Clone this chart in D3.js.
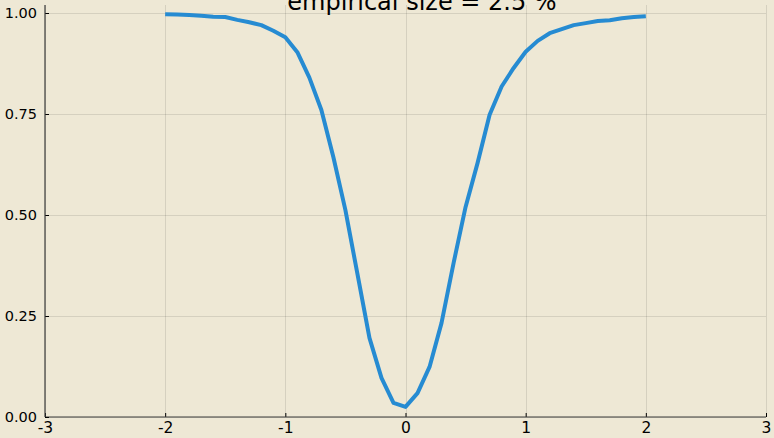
<!DOCTYPE html>
<html>
<head>
<meta charset="utf-8">
<script src="https://cdn.jsdelivr.net/npm/d3@7"></script>
<style>
  html, body { margin: 0; padding: 0; background: #eee8d5; }
  svg { display: block; }
</style>
</head>
<body>
<div id="chart"></div>
<script>
// shift of the mean (x) and the rejection rate (y)
const shifts = [-2.0, -1.9, -1.8, -1.7, -1.6, -1.5, -1.4, -1.3, -1.2, -1.1,
  -1.0, -0.9, -0.8, -0.7, -0.6, -0.5, -0.4, -0.3, -0.2, -0.1,
  0.0, 0.1, 0.2, 0.3, 0.4, 0.5, 0.6, 0.7, 0.8, 0.9,
  1.0, 1.1, 1.2, 1.3, 1.4, 1.5, 1.6, 1.7, 1.8, 1.9, 2.0];
const power = [0.997, 0.996, 0.995, 0.993, 0.991, 0.990, 0.983, 0.977, 0.970, 0.956,
  0.940, 0.903, 0.840, 0.760, 0.643, 0.512, 0.354, 0.196, 0.097, 0.035,
  0.025, 0.059, 0.124, 0.233, 0.381, 0.520, 0.629, 0.748, 0.818, 0.864,
  0.904, 0.931, 0.950, 0.960, 0.970, 0.975, 0.980, 0.982, 0.987, 0.990, 0.992];
const xTicks = [-3, -2, -1, 0, 1, 2, 3];
const xTickLabels = ["-3", "-2", "-1", "0", "1", "2", "3"];
const yTicks = [0, 0.25, 0.5, 0.75, 1];
const yTickLabels = ["0.00", "0.25", "0.50", "0.75", "1.00"];
const title = "empirical size = 2.5 %";

const size = { width: 774, height: 438 };
const plot = { left: 45, right: 766, top: 5, bottom: 417, yTop: 13 };
const font = "DejaVu Sans";

const svg = d3.select("#chart").append("svg")
  .attr("width", size.width)
  .attr("height", size.height);

svg.append("rect")
  .attr("width", size.width)
  .attr("height", size.height)
  .attr("fill", "#eee8d5");

const x = d3.scaleLinear().domain([-3, 3]).range([plot.left, plot.right]);
const y = d3.scaleLinear().domain([0, 1]).range([plot.bottom, plot.yTop]);

// grid
const grid = svg.append("g").attr("stroke", "#000").attr("stroke-opacity", 0.1).attr("stroke-width", 1);
grid.selectAll(".gx").data(xTicks).join("line")
  .attr("x1", d => Math.round(x(d)) + 0.5).attr("x2", d => Math.round(x(d)) + 0.5)
  .attr("y1", plot.top).attr("y2", plot.bottom);
grid.selectAll(".gy").data(yTicks).join("line")
  .attr("x1", plot.left).attr("x2", plot.right)
  .attr("y1", d => Math.round(y(d)) + 0.5).attr("y2", d => Math.round(y(d)) + 0.5);

// the curve
const line = d3.line()
  .x((d, i) => x(shifts[i]))
  .y(d => y(d));

svg.append("path")
  .datum(power)
  .attr("d", line)
  .attr("fill", "none")
  .attr("stroke", "#268bd2")
  .attr("stroke-width", 4)
  .attr("stroke-linejoin", "round");

// axes (d3 puts font-family="sans-serif" on the axis group, so override it there)
const axisX = d3.axisBottom(x).tickValues(xTicks).tickFormat((d, i) => xTickLabels[i])
  .tickSizeInner(-4).tickSizeOuter(0).tickPadding(5);
const gx = svg.append("g")
  .attr("transform", `translate(0,${plot.bottom})`)
  .call(axisX)
  .attr("font-family", font)
  .attr("font-size", 15.5);
gx.select(".domain").remove();
gx.append("line")
  .attr("x1", plot.left).attr("x2", plot.right)
  .attr("stroke", "#3b3b3b").attr("stroke-width", 1.2);
gx.selectAll(".tick line").attr("stroke", "#000");
gx.selectAll(".tick text")
  .attr("fill", "#000")
  .attr("dy", "0.72em");

const axisY = d3.axisLeft(y).tickValues(yTicks).tickFormat((d, i) => yTickLabels[i])
  .tickSizeInner(-4).tickSizeOuter(0).tickPadding(8);
const gy = svg.append("g")
  .attr("transform", `translate(${plot.left},0)`)
  .call(axisY)
  .attr("font-family", font)
  .attr("font-size", 14.5);
gy.select(".domain").remove();
gy.append("line")
  .attr("y1", plot.top).attr("y2", plot.bottom)
  .attr("stroke", "#3b3b3b").attr("stroke-width", 1.2);
gy.selectAll(".tick line").attr("stroke", "#000");
gy.selectAll(".tick text")
  .attr("fill", "#000");

// title, partly cut off at the top edge as in the reference
svg.append("text")
  .attr("x", 422)
  .attr("y", 9.5)
  .attr("text-anchor", "middle")
  .attr("font-family", font)
  .attr("font-size", 24)
  .attr("fill", "#000")
  .text(title);
</script>
</body>
</html>
